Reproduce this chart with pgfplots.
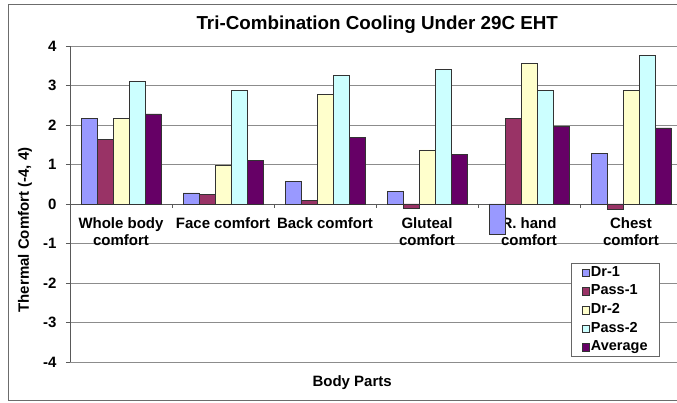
\documentclass[border=0pt]{standalone}
\usepackage{pgfplots}
\pgfplotsset{compat=1.18}
\usepackage{pgfplotstable}
\usepackage{fontspec}
\setmainfont{Liberation Sans}
\definecolor{cDrA}{HTML}{9999FF}
\definecolor{cPaA}{HTML}{993366}
\definecolor{cDrB}{HTML}{FFFFCC}
\definecolor{cPaB}{HTML}{CCFFFF}
\definecolor{cAvg}{HTML}{660066}
\definecolor{gridgray}{HTML}{8C8C8C}
\pgfplotstableread{
x  DrA   PaA   DrB   PaB   Avg
0  2.17  1.64  2.17  3.10  2.28
1  0.28  0.24  0.99  2.87  1.10
2  0.58  0.09  2.78  3.26  1.68
3  0.32  -0.11 1.37  3.41  1.25
4  -0.76 2.17  3.56  2.87  1.96
5  1.28  -0.14 2.87  3.76  1.93
}\datatable
\pgfplotsset{sw/.style={legend image code/.code={\draw[##1,draw=black!80,line width=0.4pt] (0pt,-3.8pt) rectangle (7.6pt,3.8pt);}}}
\begin{document}
\begin{tikzpicture}[x=1pt,y=1pt]
\clip (0,0) rectangle (677,403);
\fill[white] (0,0) rectangle (677,403);
\draw[gray!85!black, line width=0.9pt] (8,3) rectangle (720,399);
\begin{axis}[
  at={(70pt,41pt)}, anchor=south west,
  scale only axis, width=612pt, height=316pt,
  xmin=-0.5, xmax=5.5, ymin=-4, ymax=4,
  axis y line*=left, axis x line*=middle,
  x axis line style={-, draw=gray!70!black, line width=0.8pt},
  y axis line style={-, draw=gray!70!black, line width=0.8pt},
  ytick={-4,-3,-2,-1,0,1,2,3,4},
  ymajorgrids, grid style={gridgray, line width=0.8pt},
  xtick={0,1,2,3,4,5},
  xticklabels={{Whole body\\comfort},{Face comfort},{Back comfort},{Gluteal\\comfort},{R. hand\\comfort},{Chest\\comfort}},
  minor xtick={0.5,1.5,2.5,3.5,4.5},
  major x tick style={draw=none},
  minor x tick style={draw=gray!70!black, line width=0.8pt},
  major y tick style={draw=gray!70!black, line width=0.8pt},
  tick align=outside, major tick length=4pt, minor tick length=4pt,
  /pgf/number format/assume math mode=true,
  ticklabel style={font=\bfseries\fontsize{15}{17.5}\selectfont},
  xticklabel style={align=center, anchor=north, yshift=-6pt},
  yticklabel style={anchor=east, xshift=-6pt},
  ybar=0pt, bar width=16pt,
  title={Tri-Combination Cooling Under 29C EHT},
  title style={at={(axis description cs:0.502,1.048)}, anchor=center, font=\bfseries\fontsize{18.8}{20}\selectfont},
  ylabel={Thermal Comfort (-4, 4)},
  ylabel style={at={(axis description cs:-0.0735,0.418)}, anchor=center, rotate=0, font=\bfseries\fontsize{15}{17}\selectfont},
  xlabel={Body Parts},
  xlabel style={at={(axis description cs:0.461,-0.066)}, anchor=center, font=\bfseries\fontsize{15}{17}\selectfont},
  legend style={at={(rel axis cs:0.819,0.016)}, anchor=south west, draw=gray!80!black, line width=0.8pt, fill=white,
    font=\bfseries\fontsize{14.5}{16}\selectfont, inner xsep=10pt, inner ysep=0.5pt, row sep=1pt,
    nodes={inner sep=1.3pt, text height=11pt, text depth=4pt},
    column 2/.style={nodes={text width=72pt}}},
  legend cell align=left,
]
\addplot[fill=cDrA, draw=black!80, line width=0.5pt, sw] table[x=x,y=DrA]{\datatable};
\addplot[fill=cPaA, draw=black!80, line width=0.5pt, sw] table[x=x,y=PaA]{\datatable};
\addplot[fill=cDrB, draw=black!80, line width=0.5pt, sw] table[x=x,y=DrB]{\datatable};
\addplot[fill=cPaB, draw=black!80, line width=0.5pt, sw] table[x=x,y=PaB]{\datatable};
\addplot[fill=cAvg, draw=black!80, line width=0.5pt, sw] table[x=x,y=Avg]{\datatable};
\legend{Dr-1,Pass-1,Dr-2,Pass-2,Average}
\end{axis}
\end{tikzpicture}
\end{document}
